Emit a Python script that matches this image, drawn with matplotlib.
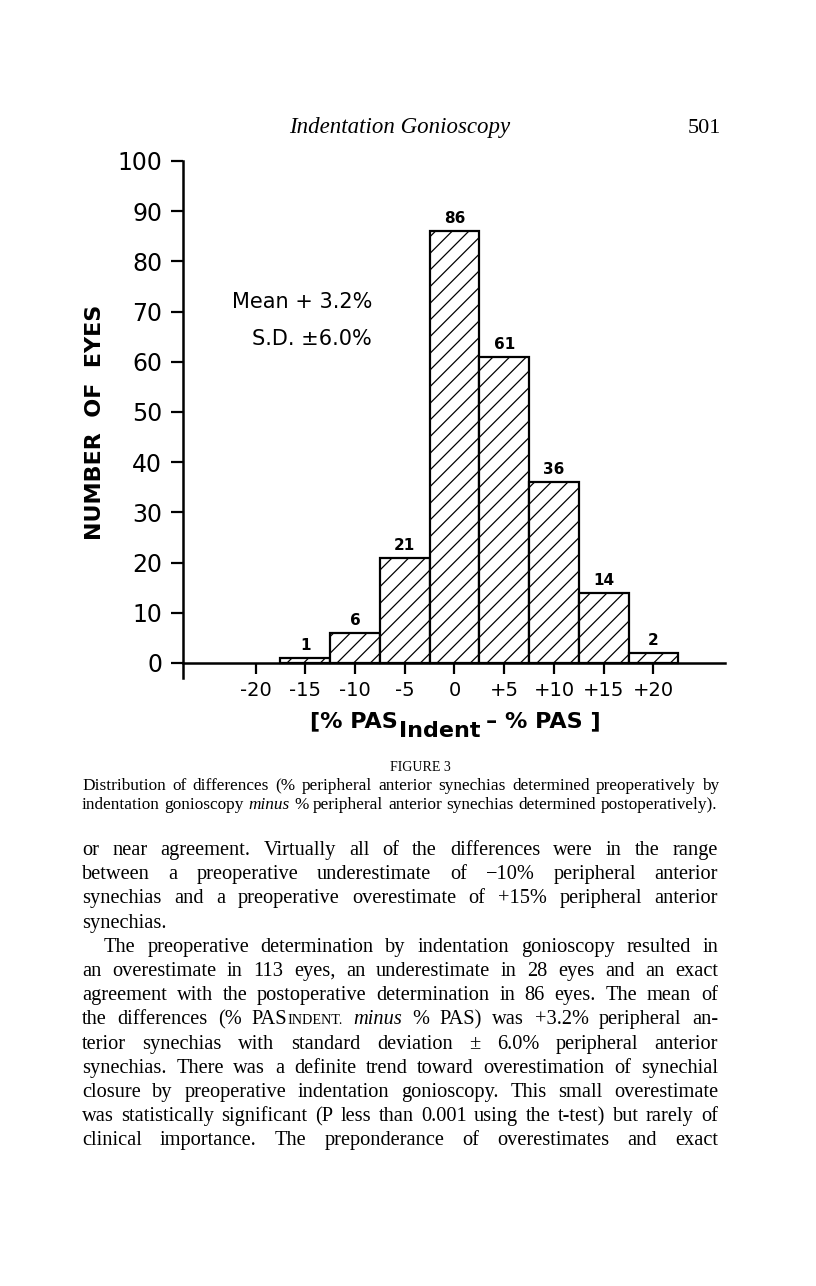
import re
import matplotlib.pyplot as plt

# histogram data (bin centre in %, number of eyes)
bin_centers = [-15, -10, -5, 0, 5, 10, 15, 20]
eye_counts = [1, 6, 21, 86, 61, 36, 14, 2]
bin_width = 5
x_ticks = [-20, -15, -10, -5, 0, 5, 10, 15, 20]
x_tick_labels = ['-20', '-15', '-10', '-5', '0', '+5', '+10', '+15', '+20']
y_ticks = [0, 10, 20, 30, 40, 50, 60, 70, 80, 90, 100]

caption_lines = [
    "Distribution of differences (% peripheral anterior synechias determined preoperatively by",
    "indentation gonioscopy *minus* % peripheral anterior synechias determined postoperatively).",
]
body_lines = [
    "or near agreement. Virtually all of the differences were in the range",
    "between a preoperative underestimate of \u221210% peripheral anterior",
    "synechias and a preoperative overestimate of +15% peripheral anterior",
    "synechias.",
    "The preoperative determination by indentation gonioscopy resulted in",
    "an overestimate in 113 eyes, an underestimate in 28 eyes and an exact",
    "agreement with the postoperative determination in 86 eyes. The mean of",
    "the differences (% PAS^INDENT.^ *minus* % PAS) was +3.2% peripheral an-",
    "terior synechias with standard deviation \u00b1 6.0% peripheral anterior",
    "synechias. There was a definite trend toward overestimation of synechial",
    "closure by preoperative indentation gonioscopy. This small overestimate",
    "was statistically significant (P less than 0.001 using the t-test) but rarely of",
    "clinical importance. The preponderance of overestimates and exact",
]
body_last = [3]      # lines set ragged (end of paragraph)
body_indent = [4]    # first line of a paragraph

W, H = 816, 1286
plt.rcParams['font.family'] = 'DejaVu Sans'
plt.rcParams['hatch.linewidth'] = 0.9
fig = plt.figure(figsize=(W / 100, H / 100), dpi=100)
rend = fig.canvas.get_renderer()

SERIF = 'Liberation Serif'


def parse(line):
    words = []
    for w in line.split(' '):
        segs = []
        for part in re.split(r'(\*[^*]+\*|\^[^^]+\^)', w):
            if not part:
                continue
            if part[0] == '*':
                segs.append((part[1:-1], 'i'))
            elif part[0] == '^':
                segs.append((part[1:-1], 's'))
            else:
                segs.append((part, 'n'))
        words.append(segs)
    return words


def set_line(line, y, x0, x1, styles, justify=True):
    """place one line of text (pixel coords from top-left), justified"""
    placed = []
    total = 0
    for segs in parse(line):
        arts = []
        for txt, st in segs:
            t = fig.text(0, 0, txt, va='baseline', ha='left', **styles[st])
            arts.append((t, t.get_window_extent(renderer=rend).width))
        ww = sum(a[1] for a in arts)
        placed.append((arts, ww))
        total += ww
    gap = styles['n']['fontsize'] * 100 / 72 * 0.25
    if justify and len(placed) > 1:
        gap = (x1 - x0 - total) / (len(placed) - 1)
    x = x0
    for arts, ww in placed:
        xx = x
        for t, wd in arts:
            t.set_position((xx / W, 1 - y / H))
            xx += wd
        x += ww + gap


# ---- chart ----
ax = fig.add_axes([183 / W, 1 - 678 / H, 542 / W, 517 / H])
ax.bar(bin_centers, eye_counts, width=bin_width, color='white', edgecolor='black',
       hatch='//', linewidth=1.6, zorder=2)
for c, n in zip(bin_centers, eye_counts):
    ax.text(c, n + 1.0, str(n), ha='center', va='bottom', fontsize=11, fontweight='bold')

ax.set_xlim(-27.3, 27.2)
ax.set_ylim(-3.0, 100)
ax.spines['top'].set_visible(False)
ax.spines['right'].set_visible(False)
ax.spines['bottom'].set_position(('data', 0))
ax.spines['bottom'].set_linewidth(1.8)
ax.spines['left'].set_linewidth(1.8)
ax.set_yticks(y_ticks, [str(v) for v in y_ticks])
ax.set_xticks(x_ticks, x_tick_labels)
ax.tick_params(axis='y', direction='out', length=9, width=1.6, pad=6, labelsize=17)
ax.tick_params(axis='x', direction='out', length=8, width=1.6, pad=5, labelsize=14)

ax.text(-8.3, 72, 'Mean + 3.2%', ha='right', va='center', fontsize=15)
ax.text(-8.3, 64.5, 'S.D. \u00b16.0%', ha='right', va='center', fontsize=15)

fig.text(95 / W, 1 - 422 / H, 'NUMBER  OF  EYES', rotation=90, ha='center',
         va='center', fontsize=16, fontweight='bold')

# x label with "Indent" as a lowered subscript
xl = [('[% PAS', 0, 0), ('Indent', 10, 2), ('\u2013 % PAS ]', 0, 5)]
arts = []
for txt, dy, gap in xl:
    t = fig.text(0, 0, txt, va='baseline', ha='left', fontsize=16, fontweight='bold')
    arts.append((t, t.get_window_extent(renderer=rend).width, dy, gap))
total = sum(a[1] + a[3] for a in arts)
x = 455 - total / 2
for t, wd, dy, gap in arts:
    x += gap
    t.set_position((x / W, 1 - (727 + dy) / H))
    x += wd

# ---- page text ----
fig.text(400 / W, 1 - 133 / H, 'Indentation Gonioscopy', ha='center', va='baseline',
         family=SERIF, style='italic', fontsize=16.5)
fig.text(721 / W, 1 - 133 / H, '501', ha='right', va='baseline', family=SERIF, fontsize=16)
fig.text(420 / W, 1 - 771 / H, 'FIGURE 3', ha='center', va='baseline', family=SERIF, fontsize=10)

cap_styles = {'n': dict(family=SERIF, fontsize=12.4),
              'i': dict(family=SERIF, fontsize=12.4, style='italic'),
              's': dict(family=SERIF, fontsize=9)}
for i, line in enumerate(caption_lines):
    set_line(line, 790 + 19 * i, 82, 719 - 2 * i, cap_styles)

body_styles = {'n': dict(family=SERIF, fontsize=14.7),
               'i': dict(family=SERIF, fontsize=14.7, style='italic'),
               's': dict(family=SERIF, fontsize=10.2)}
for i, line in enumerate(body_lines):
    x0 = 82 + (22 if i in body_indent else 0)
    set_line(line, 855 + 24.2 * i, x0, 718, body_styles, justify=i not in body_last)

fig.savefig('out.png', dpi=100)
